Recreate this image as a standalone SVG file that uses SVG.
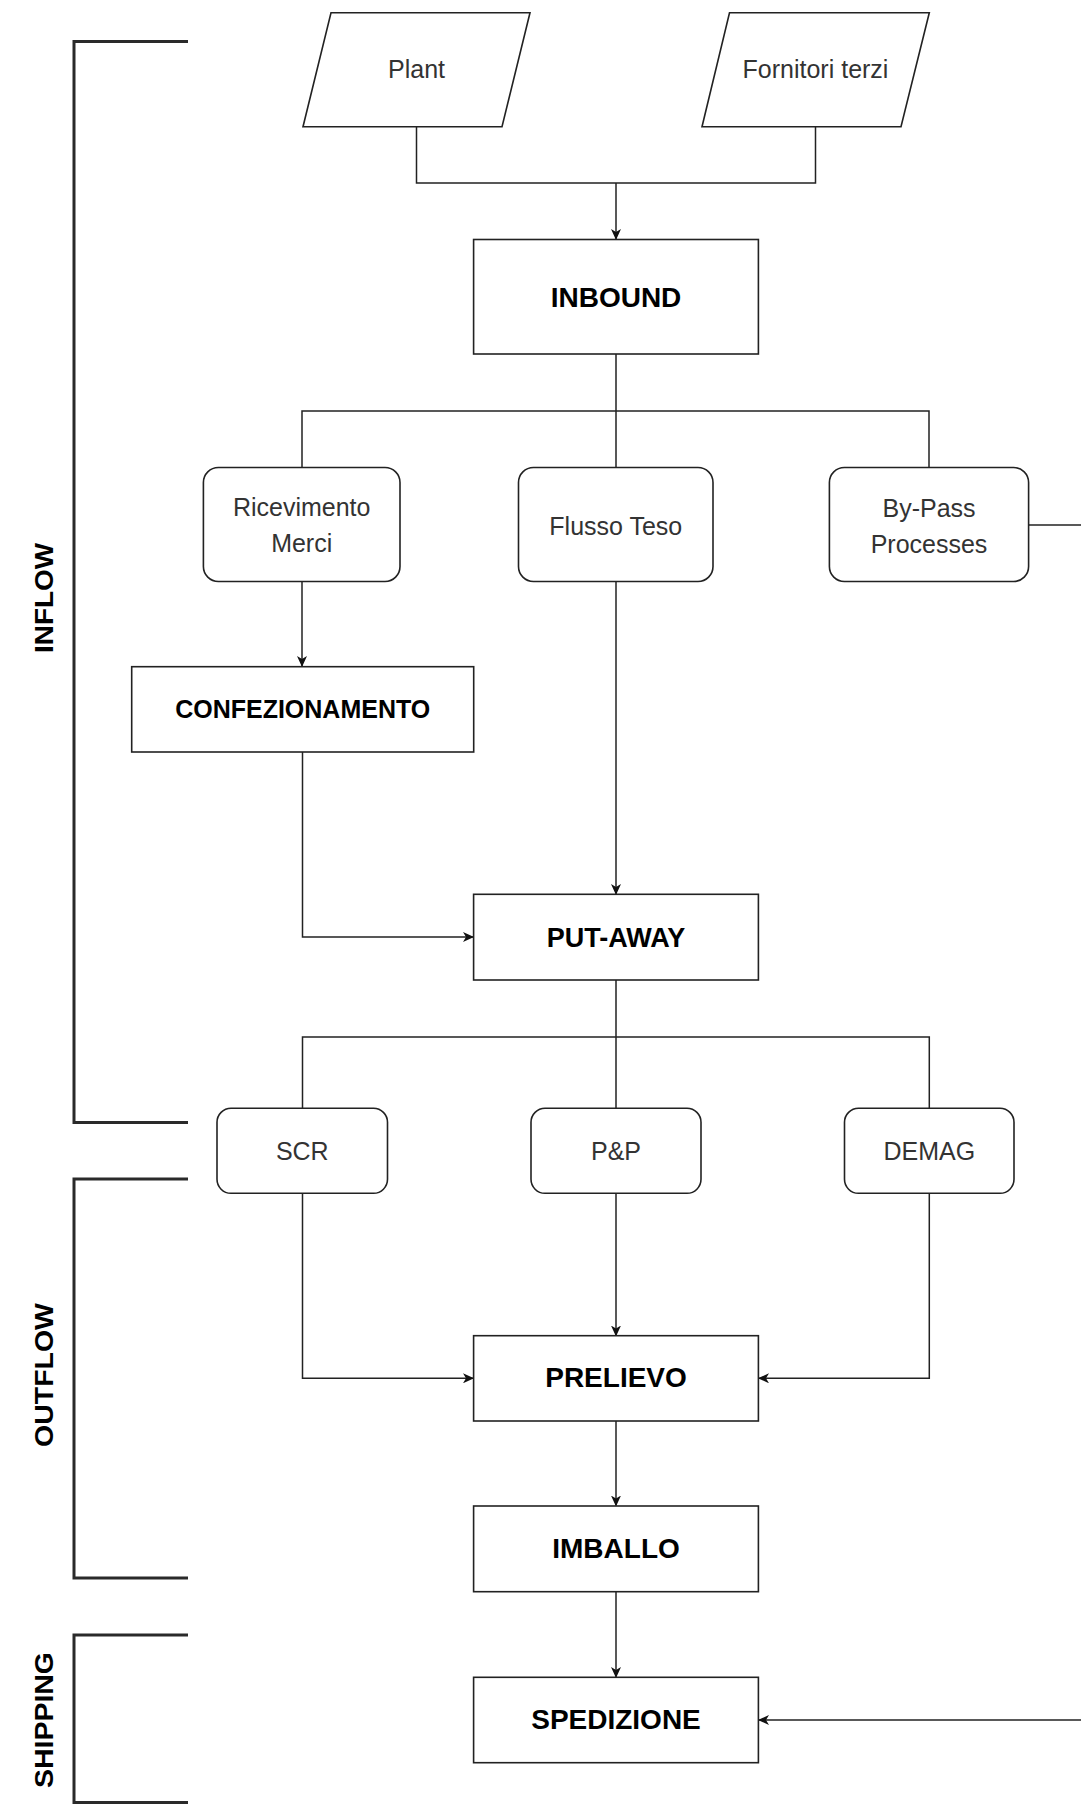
<svg xmlns="http://www.w3.org/2000/svg" width="1081" height="1804" viewBox="0 0 1081 1804">
<style>
.box{fill:#fff;stroke:#222;stroke-width:1.6}
.con{fill:none;stroke:#222;stroke-width:1.5}
.brk{fill:none;stroke:#2a2a2a;stroke-width:3}
.t{font-family:"Liberation Sans",Arial,sans-serif;font-size:25px;fill:#333;text-anchor:middle}
.b{font-family:"Liberation Sans",Arial,sans-serif;font-weight:bold;fill:#000;text-anchor:middle}
.v{font-family:"Liberation Sans",Arial,sans-serif;font-weight:bold;font-size:25px;fill:#000;text-anchor:middle}
</style>
<defs>
<marker id="arr" markerWidth="11" markerHeight="10" refX="10" refY="5" orient="auto" markerUnits="userSpaceOnUse" viewBox="0 0 11 10">
<path d="M0,0 L11,5 L0,10 L3,5 Z" fill="#111"/>
</marker>
</defs>
<rect width="1081" height="1804" fill="#fff"/>

<g id="brackets">
<path class="brk" d="M188,41.5 H74 V1122.5 H188"/>
<path class="brk" d="M188,1179 H74 V1578 H188"/>
<path class="brk" d="M188,1635 H74 V1802.5 H188"/>
<text class="v" transform="translate(53,598) rotate(-90)" textLength="110" lengthAdjust="spacingAndGlyphs">INFLOW</text>
<text class="v" transform="translate(53,1375) rotate(-90)" textLength="144" lengthAdjust="spacingAndGlyphs">OUTFLOW</text>
<text class="v" transform="translate(53,1720) rotate(-90)" textLength="136" lengthAdjust="spacingAndGlyphs">SHIPPING</text>
</g>

<g id="connectors">
<path class="con" d="M416.5,127 V183 H815.5 V127"/>
<path class="con" d="M616,183 V239" marker-end="url(#arr)"/>
<path class="con" d="M616,354 V467.5 M302,467.5 V411 H929 V467.5"/>
<path class="con" d="M302,581.5 V666" marker-end="url(#arr)"/>
<path class="con" d="M302.5,752 V937 H473" marker-end="url(#arr)"/>
<path class="con" d="M616,581.5 V894" marker-end="url(#arr)"/>
<path class="con" d="M616,980 V1108.3 M302.5,1108.3 V1037 H929.3 V1108.3"/>
<path class="con" d="M302.5,1193.3 V1378.3 H473" marker-end="url(#arr)"/>
<path class="con" d="M616,1193.3 V1335.5" marker-end="url(#arr)"/>
<path class="con" d="M929.3,1193.3 V1378.3 H759" marker-end="url(#arr)"/>
<path class="con" d="M616,1421 V1505.5" marker-end="url(#arr)"/>
<path class="con" d="M616,1591.7 V1677" marker-end="url(#arr)"/>
<path class="con" d="M1029,525 H1081"/>
<path class="con" d="M1081,1720 H759" marker-end="url(#arr)"/>
</g>

<g id="plant">
<polygon class="box" points="331,12.7 530,12.7 502,126.7 303,126.7"/>
<text class="t" x="416.5" y="78">Plant</text>
</g>
<g id="fornitori">
<polygon class="box" points="729.5,12.7 929.3,12.7 901,126.7 702,126.7"/>
<text class="t" x="815.5" y="78">Fornitori terzi</text>
</g>
<g id="inbound">
<rect class="box" x="473.6" y="239.5" width="284.8" height="114.5"/>
<text class="b" x="616" y="307" font-size="28">INBOUND</text>
</g>
<g id="ricevimento">
<rect class="box" x="203.4" y="467.5" width="196.6" height="114" rx="15"/>
<text class="t" x="301.7" y="516">Ricevimento</text>
<text class="t" x="301.7" y="552">Merci</text>
</g>
<g id="flusso">
<rect class="box" x="518.5" y="467.5" width="194.5" height="114" rx="15"/>
<text class="t" x="615.8" y="535">Flusso Teso</text>
</g>
<g id="bypass">
<rect class="box" x="829.4" y="467.5" width="199.2" height="114" rx="15"/>
<text class="t" x="929" y="517">By-Pass</text>
<text class="t" x="929" y="553">Processes</text>
</g>
<g id="confezionamento">
<rect class="box" x="131.7" y="666.7" width="342" height="85.3"/>
<text class="b" x="302.7" y="718" font-size="25">CONFEZIONAMENTO</text>
</g>
<g id="putaway">
<rect class="box" x="473.6" y="894.3" width="284.8" height="85.7"/>
<text class="b" x="616" y="946.5" font-size="27">PUT-AWAY</text>
</g>
<g id="scr">
<rect class="box" x="217" y="1108.3" width="170.5" height="85" rx="14"/>
<text class="t" x="302.3" y="1159.5">SCR</text>
</g>
<g id="pp">
<rect class="box" x="531" y="1108.3" width="170" height="85" rx="14"/>
<text class="t" x="616" y="1159.5">P&amp;P</text>
</g>
<g id="demag">
<rect class="box" x="844.5" y="1108.3" width="169.5" height="85" rx="14"/>
<text class="t" x="929.3" y="1159.5">DEMAG</text>
</g>
<g id="prelievo">
<rect class="box" x="473.6" y="1335.7" width="284.8" height="85.3"/>
<text class="b" x="616" y="1387" font-size="28">PRELIEVO</text>
</g>
<g id="imballo">
<rect class="box" x="473.6" y="1506" width="284.8" height="85.7"/>
<text class="b" x="616" y="1558" font-size="28">IMBALLO</text>
</g>
<g id="spedizione">
<rect class="box" x="473.6" y="1677.3" width="284.8" height="85.4"/>
<text class="b" x="616" y="1729" font-size="28">SPEDIZIONE</text>
</g>
</svg>
